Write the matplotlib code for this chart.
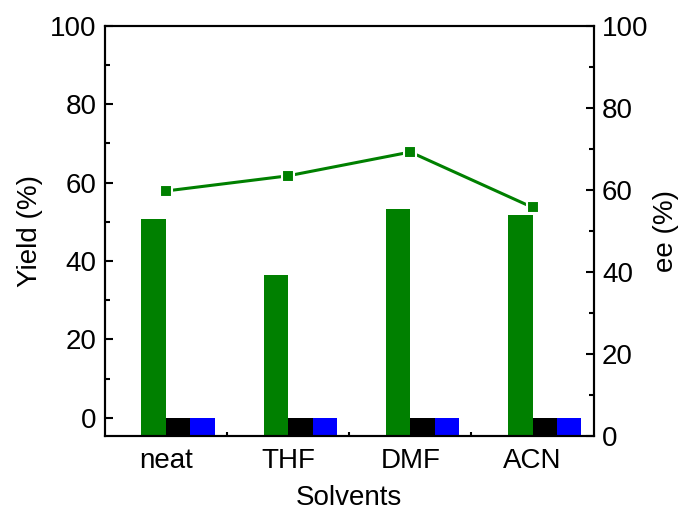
import matplotlib
matplotlib.use("Agg")
import matplotlib.pyplot as plt
import numpy as np
from matplotlib.ticker import MultipleLocator, FixedLocator

plt.rcParams['font.family'] = ['Liberation Sans', 'DejaVu Sans']

# Data
solvents = ["neat", "THF", "DMF", "ACN"]
yield_green = [50.7, 36.4, 53.2, 51.7]
yield_black = [0, 0, 0, 0]
yield_blue = [0, 0, 0, 0]
ee_values = [59.7, 63.4, 69.2, 55.7]

GREEN = "#008000"
BLUE = "#0000FF"
BLACK = "#000000"

fig = plt.figure(figsize=(6.84, 5.14), dpi=100)
ax = fig.add_axes([0.153, 0.152, 0.715, 0.798])

x = np.arange(1, len(solvents) + 1)
width = 0.2
ymin, ymax = -4.6, 100

# bars start from the bottom of the axis
ax.bar(x - width, np.array(yield_green) - ymin, width, bottom=ymin, align='edge', color=GREEN, zorder=2)
ax.bar(x, np.array(yield_black) - ymin, width, bottom=ymin, align='edge', color=BLACK, zorder=2)
ax.bar(x + width, np.array(yield_blue) - ymin, width, bottom=ymin, align='edge', color=BLUE, zorder=2)

ax.set_xlim(0.5, 4.5)
ax.set_ylim(ymin, ymax)
ax.set_xticks(x)
ax.set_xticklabels(solvents)
ax.xaxis.set_minor_locator(FixedLocator([1.5, 2.5, 3.5]))
ax.yaxis.set_major_locator(MultipleLocator(20))
ax.yaxis.set_minor_locator(MultipleLocator(10))

ax.tick_params(axis='x', which='major', length=0, pad=9, labelsize=20)
ax.tick_params(axis='x', which='minor', direction='in', length=3, width=1.5)
ax.tick_params(axis='y', which='major', direction='in', length=6, width=1.5, labelsize=20, pad=6)
ax.tick_params(axis='y', which='minor', direction='in', length=3.5, width=1.5)

for s in ax.spines.values():
    s.set_linewidth(1.5)

ax.set_xlabel("Solvents", fontsize=20, labelpad=8)
ax.set_ylabel("Yield (%)", fontsize=20, labelpad=5)

ax2 = ax.twinx()
ax2.plot(x, ee_values, color=GREEN, lw=2.2, marker='s', markersize=8,
         markerfacecolor=GREEN, markeredgecolor='white', markeredgewidth=1.5, zorder=3)
ax2.set_ylim(0, 100)
ax2.yaxis.set_major_locator(MultipleLocator(20))
ax2.yaxis.set_minor_locator(MultipleLocator(10))
ax2.tick_params(axis='y', which='major', direction='in', length=6, width=1.5, labelsize=20, pad=6)
ax2.tick_params(axis='y', which='minor', direction='in', length=3.5, width=1.5)
for s in ax2.spines.values():
    s.set_linewidth(1.5)
ax2.set_ylabel("ee (%)", fontsize=20, labelpad=3)

fig.savefig("out.png", dpi=100)
